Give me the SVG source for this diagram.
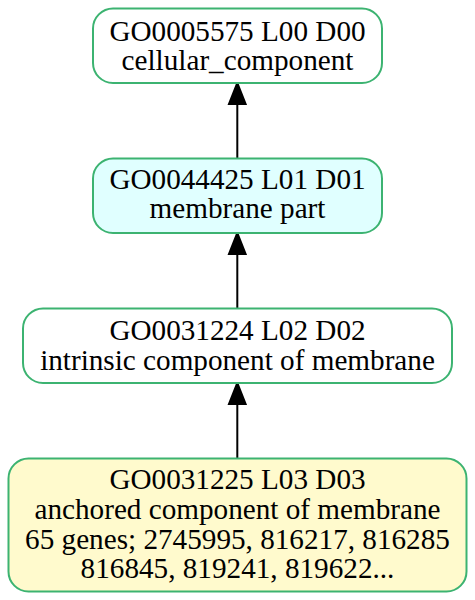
<svg xmlns="http://www.w3.org/2000/svg" width="475" height="600" viewBox="0 0 475 600">
<style>
.node rect{stroke:#3cb371;stroke-width:2}
.node text{font-family:"Liberation Serif","Times New Roman",serif;font-size:29.2px;text-anchor:middle;fill:#000}
.edge line{stroke:#000;stroke-width:2}
.edge polygon{fill:#000;stroke:#000;stroke-width:2}
</style>
<rect width="475" height="600" fill="#fff"/>
<g id="edges" class="edge">
<line x1="237.3" y1="158" x2="237.3" y2="104"/>
<polygon points="229,104 245.6,104 237.3,83"/>
<line x1="237.3" y1="308" x2="237.3" y2="254"/>
<polygon points="229,254 245.6,254 237.3,233"/>
<line x1="237.3" y1="458" x2="237.3" y2="404"/>
<polygon points="229,404 245.6,404 237.3,383"/>
</g>
<g id="n1" class="node">
<rect x="93" y="8.5" width="289" height="74.5" rx="20" fill="#fff"/>
<text x="237.5" y="40.7">GO0005575 L00 D00</text>
<text x="237.5" y="70.3">cellular_component</text>
</g>
<g id="n2" class="node">
<rect x="93" y="158.5" width="289" height="74.5" rx="20" fill="#e0ffff"/>
<text x="237.5" y="188.5">GO0044425 L01 D01</text>
<text x="237.5" y="218.3">membrane part</text>
</g>
<g id="n3" class="node">
<rect x="23" y="308.5" width="429" height="74.5" rx="20" fill="#fff"/>
<text x="237.5" y="340">GO0031224 L02 D02</text>
<text x="237.5" y="369.5">intrinsic component of membrane</text>
</g>
<g id="n4" class="node">
<rect x="8.5" y="458.5" width="458" height="133" rx="20" fill="#fffacd"/>
<text x="237.5" y="489">GO0031225 L03 D03</text>
<text x="237.5" y="519">anchored component of membrane</text>
<text x="237.5" y="548.7">65 genes; 2745995, 816217, 816285</text>
<text x="237.5" y="578">816845, 819241, 819622...</text>
</g>
</svg>
